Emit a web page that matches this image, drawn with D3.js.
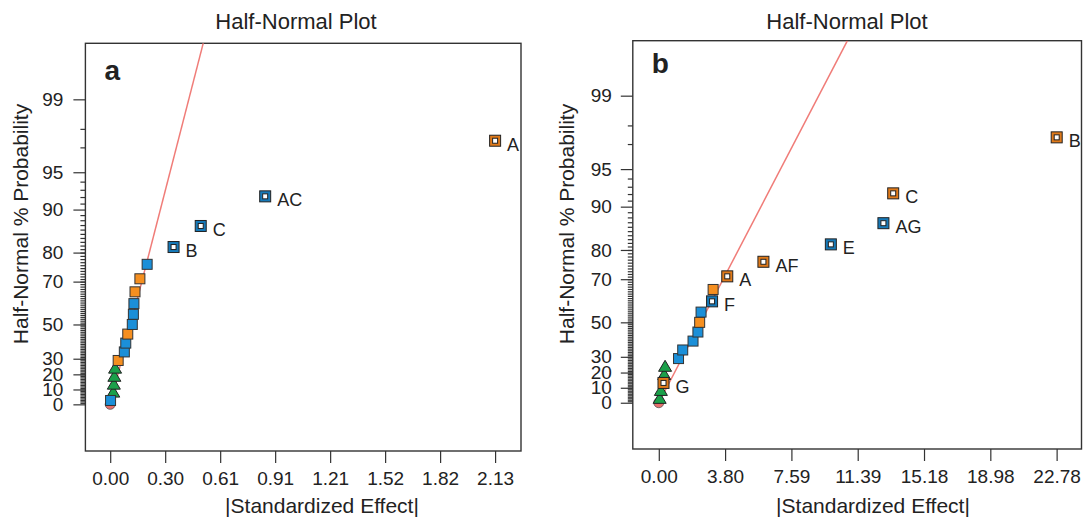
<!DOCTYPE html>
<html>
<head>
  <meta charset="utf-8">
  <title>Half-Normal Plot</title>
  <script src="https://d3js.org/d3.v7.min.js"></script>
  <style>
    body { margin: 0; background: #fff; }
    svg text { font-family: Arial, "Liberation Sans", Helvetica, sans-serif; fill: #222; }
    .frame { fill: none; stroke: #333; stroke-width: 1.4; }
    .axis .domain { display: none; }
    .axis line { stroke: #333; stroke-width: 1.2; }
  </style>
</head>
<body>
<div id="output"></div>

<script type="text/javascript">

  // ---- panel a ----
  var effectA = [0, 0.002, 0.017, 0.020, 0.023, 0.027, 0.044, 0.078, 0.086, 0.097,
                 0.122, 0.128, 0.131, 0.137, 0.164, 0.204, 0.350, 0.500, 0.856, 2.126];
  var probA   = [0, 2.6, 7.9, 13.2, 18.4, 23.7, 28.9, 34.2, 39.5, 44.7,
                 50.0, 55.3, 60.5, 65.8, 71.1, 76.3, 81.6, 86.8, 92.1, 97.4];
  var markA   = ["circle", "blue", "tri", "tri", "tri", "tri", "orange", "blue", "blue", "orange",
                 "blue", "blue", "blue", "orange", "orange", "blue", "blue", "blue", "blue", "orange"];
  var termA   = ["", "", "", "", "", "", "", "", "", "",
                 "", "", "", "", "", "", "B", "C", "AC", "A"];
  var xTicksA = [0, 0.3037, 0.6074, 0.9111, 1.2148, 1.5185, 1.8222, 2.1259];
  var fitEffectA = [0, 0.514];
  var fitZA      = [0, 3.05];

  // ---- panel b ----
  var effectB = [0, 0.05, 0.12, 0.27, 0.31, 0.36, 1.13, 1.37, 1.96, 2.24,
                 2.34, 2.42, 3.05, 3.11, 3.92, 5.99, 9.85, 12.86, 13.42, 22.78];
  var probB   = [0, 2.6, 7.9, 13.2, 18.4, 23.7, 28.9, 34.2, 39.5, 44.7,
                 50.0, 55.3, 60.5, 65.8, 71.1, 76.3, 81.6, 86.8, 92.1, 97.4];
  var markB   = ["circle", "tri", "tri", "orange", "tri", "tri", "blue", "blue", "blue", "blue",
                 "orange", "blue", "blue", "orange", "orange", "orange", "blue", "blue", "orange", "orange"];
  var termB   = ["", "", "", "G", "", "", "", "", "", "",
                 "", "", "F", "", "A", "AF", "E", "AG", "C", "B"];
  var xTicksB = [0, 3.796, 7.592, 11.388, 15.184, 18.98, 22.776];
  var fitEffectB = [0, 10.8];
  var fitZB      = [0, 3.037];

  // y axis (percent probability)
  var yTicks = [0, 10, 20, 30, 50, 70, 80, 90, 95, 99];
  var yMinor = d3.range(1, 90).concat([91, 92, 93, 94, 97, 98]);

  var fill = { blue: "#1b8fd8", orange: "#f58f20", tri: "#1ba04a", circle: "#e6706c" };
  var ring = { blue: "#1679b8", orange: "#e07a1a" };

  // inverse normal cdf (Acklam), used for the half-normal probability axis
  function probit(p) {
    var a = [-39.69683028665376, 220.9460984245205, -275.9285104469687, 138.3577518672690, -30.66479806614716, 2.506628277459239];
    var b = [-54.47609879822406, 161.5858368580409, -155.6989798598866, 66.80131188771972, -13.28068155288572];
    var c = [-0.007784894002430293, -0.3223964580411365, -2.400758277161838, -2.549732539343734, 4.374664141464968, 2.938163982698783];
    var d = [0.007784695709041462, 0.3224671290700398, 2.445134137142996, 3.754408661907416];
    var q, r;
    if (p < 0.02425) {
      q = Math.sqrt(-2 * Math.log(p));
      return (((((c[0]*q+c[1])*q+c[2])*q+c[3])*q+c[4])*q+c[5]) / ((((d[0]*q+d[1])*q+d[2])*q+d[3])*q+1);
    } else if (p <= 1 - 0.02425) {
      q = p - 0.5; r = q * q;
      return (((((a[0]*r+a[1])*r+a[2])*r+a[3])*r+a[4])*r+a[5])*q / (((((b[0]*r+b[1])*r+b[2])*r+b[3])*r+b[4])*r+1);
    }
    q = Math.sqrt(-2 * Math.log(1 - p));
    return -(((((c[0]*q+c[1])*q+c[2])*q+c[3])*q+c[4])*q+c[5]) / ((((d[0]*q+d[1])*q+d[2])*q+d[3])*q+1);
  }
  function halfZ(pct) { return pct <= 0 ? 0 : probit(0.5 + pct / 200); }

  var svg = d3.select("#output").append("svg")
          .attr("width", 1083)
          .attr("height", 520);

  function drawPanel(o) {
    var x = d3.scaleLinear().domain(o.xDomain).range([o.left, o.right]);
    var y = d3.scaleLinear().domain(o.zDomain).range([o.bottom, o.top]);
    var g = svg.append("g");
    var clipId = "clip" + o.letter;

    g.append("clipPath").attr("id", clipId)
      .append("rect")
      .attr("x", o.left).attr("y", o.top)
      .attr("width", o.right - o.left).attr("height", o.bottom - o.top);

    // title
    g.append("text")
      .attr("x", o.titleX).attr("y", 29)
      .attr("text-anchor", "middle")
      .style("font-size", "22px")
      .text("Half-Normal Plot");

    // minor y ticks
    g.append("g")
      .attr("class", "axis")
      .attr("transform", "translate(" + o.left + ",0)")
      .call(d3.axisLeft(y).tickValues(yMinor.map(halfZ)).tickSize(5).tickFormat(""));

    // major y ticks
    var yAxis = g.append("g")
      .attr("class", "axis")
      .attr("transform", "translate(" + o.left + ",0)")
      .call(d3.axisLeft(y)
        .tickValues(yTicks.map(halfZ))
        .tickSize(12)
        .tickPadding(o.yPad)
        .tickFormat(function(d, i) { return yTicks[i]; }));
    yAxis.selectAll("text").style("font-size", "19px").attr("fill", "#222")
      .style("font-family", "Arial, 'Liberation Sans', sans-serif");

    // x axis
    var xAxis = g.append("g")
      .attr("class", "axis")
      .attr("transform", "translate(0," + o.bottom + ")")
      .call(d3.axisBottom(x)
        .tickValues(o.xTicks)
        .tickSize(12)
        .tickPadding(9)
        .tickFormat(d3.format(".2f")));
    xAxis.selectAll("text").style("font-size", "19px").attr("fill", "#222")
      .style("font-family", "Arial, 'Liberation Sans', sans-serif");

    // axis titles
    g.append("text")
      .attr("x", o.xTitleX).attr("y", 513)
      .attr("text-anchor", "middle")
      .style("font-size", "21px")
      .text("|Standardized Effect|");

    g.append("text")
      .attr("transform", "translate(" + o.yTitleX + "," + 224 + ") rotate(-90)")
      .attr("text-anchor", "middle")
      .style("font-size", "21px")
      .text("Half-Normal % Probability");

    // frame
    g.append("rect")
      .attr("class", "frame")
      .attr("x", o.left).attr("y", o.top)
      .attr("width", o.right - o.left).attr("height", o.bottom - o.top);

    // panel letter
    g.append("text")
      .attr("x", o.left + 19).attr("y", o.letterY)
      .style("font-size", "28px")
      .style("font-weight", "bold")
      .text(o.letter);

    // fitted line
    g.append("line")
      .attr("clip-path", "url(#" + clipId + ")")
      .attr("x1", x(o.fitEffect[0])).attr("y1", y(o.fitZ[0]))
      .attr("x2", x(o.fitEffect[1])).attr("y2", y(o.fitZ[1]))
      .attr("stroke", "#f07c78")
      .attr("stroke-width", 1.5);

    var pts = o.effect.map(function(e, i) {
      return { e: e, z: halfZ(o.prob[i]), m: o.mark[i], t: o.term[i] };
    });

    // error estimate circle
    g.selectAll(".circ")
      .data(pts.filter(function(d) { return d.m === "circle"; }))
      .enter().append("circle")
      .attr("cx", function(d) { return x(d.e); })
      .attr("cy", function(d) { return y(d.z); })
      .attr("r", 5)
      .attr("fill", fill.circle)
      .attr("stroke", "#555")
      .attr("stroke-width", 0.8);

    // triangles
    g.selectAll(".tri")
      .data(pts.filter(function(d) { return d.m === "tri"; }))
      .enter().append("path")
      .attr("d", "M0,-6.5L6.5,4.5L-6.5,4.5Z")
      .attr("transform", function(d) { return "translate(" + x(d.e) + "," + y(d.z) + ")"; })
      .attr("fill", fill.tri)
      .attr("stroke", "#222")
      .attr("stroke-width", 1);

    // filled squares
    g.selectAll(".sq")
      .data(pts.filter(function(d) { return (d.m === "blue" || d.m === "orange") && d.t === ""; }))
      .enter().append("rect")
      .attr("x", function(d) { return x(d.e) - 5; })
      .attr("y", function(d) { return y(d.z) - 5; })
      .attr("width", 10).attr("height", 10)
      .attr("fill", function(d) { return fill[d.m]; })
      .attr("stroke", "#333")
      .attr("stroke-width", 1);

    // labelled (hollow) squares
    var lab = g.selectAll(".lab")
      .data(pts.filter(function(d) { return d.t !== ""; }))
      .enter().append("g")
      .attr("transform", function(d) { return "translate(" + x(d.e) + "," + y(d.z) + ")"; });

    lab.append("rect")
      .attr("x", -5.5).attr("y", -5.5)
      .attr("width", 11).attr("height", 11)
      .attr("fill", function(d) { return ring[d.m]; })
      .attr("stroke", "#222")
      .attr("stroke-width", 1);
    lab.append("rect")
      .attr("x", -2.5).attr("y", -2.5)
      .attr("width", 5).attr("height", 5)
      .attr("fill", "#fff")
      .attr("stroke", "#222")
      .attr("stroke-width", 1);
    lab.append("text")
      .attr("x", 12).attr("y", 10)
      .style("font-size", "18px")
      .text(function(d) { return d.t; });
  }

  drawPanel({
    letter: "a", left: 85.4, right: 521, top: 43.3, bottom: 451,
    xDomain: [-0.137, 2.269], zDomain: [-0.394, 3.049],
    xTicks: xTicksA, yPad: 10, titleX: 296, xTitleX: 322, yTitleX: 28, letterY: 80,
    effect: effectA, prob: probA, mark: markA, term: termA,
    fitEffect: fitEffectA, fitZ: fitZA
  });

  drawPanel({
    letter: "b", left: 632.8, right: 1081.5, top: 40.7, bottom: 449,
    xDomain: [-1.488, 24.2], zDomain: [-0.388, 3.037],
    xTicks: xTicksB, yPad: 9, titleX: 847, xTitleX: 873, yTitleX: 574, letterY: 73,
    effect: effectB, prob: probB, mark: markB, term: termB,
    fitEffect: fitEffectB, fitZ: fitZB
  });

</script>
</body>
</html>
